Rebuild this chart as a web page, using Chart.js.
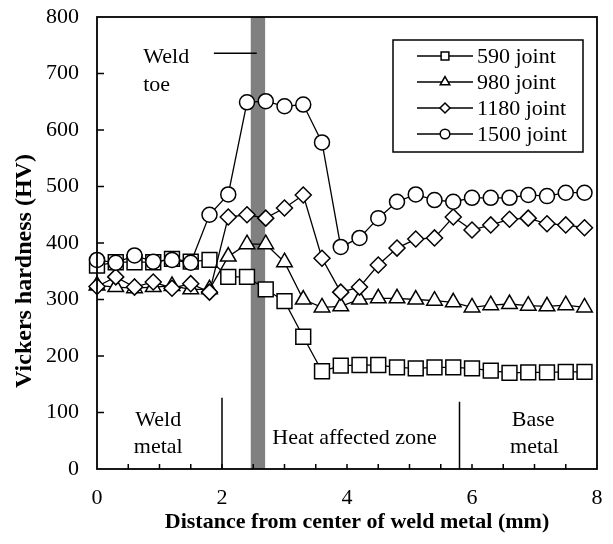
<!DOCTYPE html>
<html>
<head>
<meta charset="utf-8">
<script src="https://cdn.jsdelivr.net/npm/chart.js@4.4.1/dist/chart.umd.min.js"></script>
<style>
  html, body { margin: 0; padding: 0; background: #fff; }
  canvas { display: block; }
</style>
</head>
<body>
<canvas id="hardnessChart" width="613" height="544"></canvas>
<script>
// Distance from center of weld metal (mm)
const distances = [0, 0.3, 0.6, 0.9, 1.2, 1.5, 1.8, 2.1, 2.4, 2.7, 3.0, 3.3, 3.6, 3.9,
  4.2, 4.5, 4.8, 5.1, 5.4, 5.7, 6.0, 6.3, 6.6, 6.9, 7.2, 7.5, 7.8];

// Vickers hardness (HV) per joint
const hv590 = [360, 366, 366, 366, 372, 367, 370, 340, 340, 318, 297, 234, 173, 183,
  184, 184, 180, 178, 180, 180, 178, 174, 170, 171, 171, 172, 172];
const hv980 = [325, 322, 320, 322, 324, 318, 318, 376, 398, 398, 366, 300, 286, 288,
  300, 302, 302, 300, 298, 295, 286, 290, 292, 289, 288, 290, 286];
const hv1180 = [323, 340, 322, 331, 320, 328, 313, 446, 450, 444, 462, 485, 373, 313,
  322, 361, 391, 407, 409, 446, 423, 432, 442, 444, 434, 432, 427];
const hv1500 = [370, 365, 378, 367, 370, 365, 450, 486, 649, 651, 642, 645, 578, 393,
  409, 444, 473, 486, 476, 473, 480, 480, 480, 485, 483, 489, 489];

const seriesLabels = ['590 joint', '980 joint', '1180 joint', '1500 joint'];
const xTickValues = [0, 2, 4, 6, 8];
const yTickValues = [0, 100, 200, 300, 400, 500, 600, 700, 800];
const xTitle = 'Distance from center of weld metal (mm)';
const yTitle = 'Vickers hardness (HV)';

// weld toe band and zone boundaries (mm)
const weldToeBand = [2.46, 2.69];
const zoneBoundaries = [2.0, 5.8];

const SERIF = "'Liberation Serif', 'Times New Roman', serif";

const markers = [
  { style: 'rect', r: 10.5, lr: 5.5 },
  { style: 'triangle', r: 9, lr: 5.5 },
  { style: 'rectRot', r: 8, lr: 5 },
  { style: 'circle', r: 7.5, lr: 4.8 }
];

const seriesValues = [hv590, hv980, hv1180, hv1500];

const datasets = seriesValues.map((vals, i) => ({
  label: seriesLabels[i],
  data: distances.map((d, j) => ({ x: d, y: vals[j] })),
  borderColor: '#000',
  borderWidth: 1.3,
  pointStyle: markers[i].style,
  pointRadius: markers[i].r,
  pointBorderWidth: 1.5,
  pointBorderColor: '#000',
  pointBackgroundColor: '#fff',
  tension: 0,
  clip: false,
  order: 3 - i
}));

const decorations = {
  id: 'decorations',
  beforeDatasetsDraw(chart) {
    const { ctx, chartArea: a, scales: { x, y } } = chart;
    ctx.save();
    // weld toe band
    const b0 = x.getPixelForValue(weldToeBand[0]);
    const b1 = x.getPixelForValue(weldToeBand[1]);
    ctx.fillStyle = '#808080';
    ctx.fillRect(b0, a.top, b1 - b0, a.bottom - a.top);

    ctx.strokeStyle = '#000';
    ctx.lineWidth = 1.5;
    ctx.beginPath();
    ctx.moveTo(x.getPixelForValue(zoneBoundaries[0]), y.getPixelForValue(126));
    ctx.lineTo(x.getPixelForValue(zoneBoundaries[0]), a.bottom);
    ctx.moveTo(x.getPixelForValue(zoneBoundaries[1]), y.getPixelForValue(119));
    ctx.lineTo(x.getPixelForValue(zoneBoundaries[1]), a.bottom);
    // pointer to weld toe
    ctx.moveTo(x.getPixelForValue(1.87), y.getPixelForValue(736));
    ctx.lineTo(b0 + 6, y.getPixelForValue(736));
    ctx.stroke();

    ctx.fillStyle = '#000';
    ctx.font = '22px ' + SERIF;
    ctx.textBaseline = 'middle';
    ctx.textAlign = 'left';
    ctx.fillText('Weld', x.getPixelForValue(0.74), y.getPixelForValue(729));
    ctx.fillText('toe', x.getPixelForValue(0.74), y.getPixelForValue(680));
    ctx.textAlign = 'center';
    ctx.fillText('Weld', x.getPixelForValue(0.98), y.getPixelForValue(87));
    ctx.fillText('metal', x.getPixelForValue(0.98), y.getPixelForValue(39));
    ctx.fillText('Heat affected zone', x.getPixelForValue(4.12), y.getPixelForValue(55));
    ctx.fillText('Base', x.getPixelForValue(6.98), y.getPixelForValue(87));
    ctx.fillText('metal', x.getPixelForValue(7.0), y.getPixelForValue(39));
    ctx.restore();
  },
  afterDraw(chart) {
    const { ctx, chartArea: a, scales: { x, y } } = chart;
    ctx.save();
    ctx.strokeStyle = '#000';
    ctx.lineWidth = 1.8;
    ctx.strokeRect(a.left, a.top, a.right - a.left, a.bottom - a.top);

    // inward ticks
    ctx.lineWidth = 1.5;
    ctx.beginPath();
    for (let v = 0.5; v < 8; v += 0.5) {
      const px = x.getPixelForValue(v);
      ctx.moveTo(px, a.bottom);
      ctx.lineTo(px, a.bottom - 5);
    }
    yTickValues.slice(1, -1).forEach(v => {
      const py = y.getPixelForValue(v);
      ctx.moveTo(a.left, py);
      ctx.lineTo(a.left + 7, py);
    });
    ctx.stroke();

    // axis titles
    ctx.fillStyle = '#000';
    ctx.font = 'bold 22px ' + SERIF;
    ctx.textAlign = 'center';
    ctx.textBaseline = 'middle';
    ctx.fillText(xTitle, 357, 522);
    ctx.save();
    ctx.translate(25, 271);
    ctx.rotate(-Math.PI / 2);
    ctx.font = 'bold 24px ' + SERIF;
    ctx.fillText(yTitle, 0, 0);
    ctx.restore();

    // legend
    const lx0 = a.right - 204, lx1 = a.right - 14;
    const ly0 = a.top + 23, ly1 = a.top + 135;
    ctx.fillStyle = '#fff';
    ctx.fillRect(lx0, ly0, lx1 - lx0, ly1 - ly0);
    ctx.lineWidth = 1.5;
    ctx.strokeRect(lx0, ly0, lx1 - lx0, ly1 - ly0);
    ctx.font = '22px ' + SERIF;
    ctx.textBaseline = 'middle';
    ctx.textAlign = 'left';
    seriesLabels.forEach((label, i) => {
      const ry = ly0 + 16 + i * 26;
      ctx.strokeStyle = '#000';
      ctx.lineWidth = 1.3;
      ctx.beginPath();
      ctx.moveTo(lx0 + 24, ry);
      ctx.lineTo(lx0 + 80, ry);
      ctx.stroke();
      ctx.fillStyle = '#fff';
      ctx.lineWidth = 1.5;
      Chart.helpers.drawPoint(ctx, { pointStyle: markers[i].style, radius: markers[i].lr, rotation: 0, borderWidth: 1.5 }, lx0 + 52, ry);
      ctx.fillStyle = '#000';
      ctx.fillText(label, lx0 + 84, ry + 1);
    });
    ctx.restore();
  }
};

new Chart(document.getElementById('hardnessChart').getContext('2d'), {
  type: 'line',
  data: { datasets },
  options: {
    responsive: false,
    animation: false,
    layout: { padding: { top: 17, right: 16, left: 0, bottom: 0 } },
    plugins: {
      legend: { display: false },
      tooltip: { enabled: false }
    },
    scales: {
      x: {
        type: 'linear',
        min: 0,
        max: 8,
        afterBuildTicks: s => { s.ticks = xTickValues.map(v => ({ value: v })); },
        afterFit: s => { s.height = 75; },
        grid: { display: false, drawTicks: true, tickLength: 16 },
        border: { display: false },
        ticks: { color: '#000', font: { family: SERIF, size: 22 }, padding: 0, maxRotation: 0 }
      },
      y: {
        min: 0,
        max: 800,
        afterBuildTicks: s => { s.ticks = yTickValues.map(v => ({ value: v })); },
        afterFit: s => { s.width = 97; },
        grid: { display: false, drawTicks: true, tickLength: 18 },
        border: { display: false },
        ticks: { color: '#000', font: { family: SERIF, size: 22 }, padding: 0 }
      }
    }
  },
  plugins: [decorations]
});
</script>
</body>
</html>
